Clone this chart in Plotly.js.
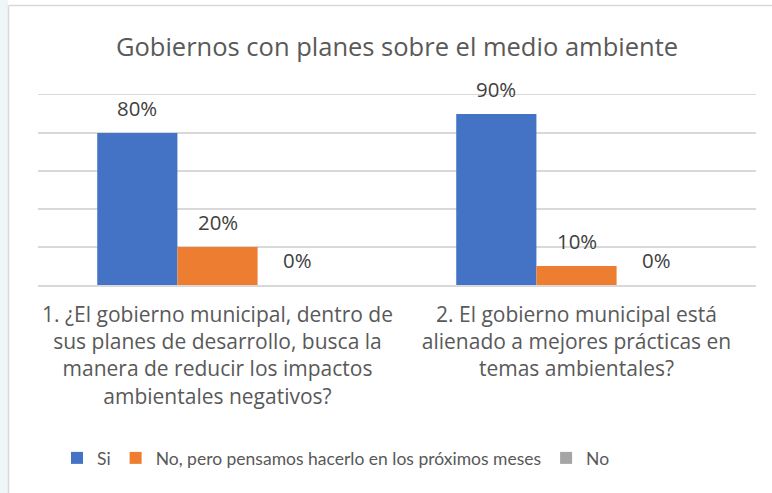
<!DOCTYPE html>
<html>
<head>
<meta charset="utf-8">
<script src="https://cdn.plot.ly/plotly-3.0.1.min.js"></script>
<style>html,body{margin:0;padding:0;background:#fff;}#chart{width:772px;height:493px;}</style>
</head>
<body>
<div id="chart"></div>
<script>
const categories = [
  "1. ¿El gobierno municipal, dentro de<br>sus planes de desarrollo, busca la<br>manera de reducir los impactos<br>ambientales negativos?",
  "2. El gobierno municipal está<br>alienado a mejores prácticas en<br>temas ambientales?"
];
const seriesNames = ["Si", "No, pero pensamos hacerlo en los próximos meses", "No"];
const siValues = [80, 90];
const noPeroValues = [20, 10];
const noValues = [0, 0];
const colors = ["#4472C4", "#ED7D31", "#A5A5A5"];

const W = 772, H = 493;
const M = {l: 38, r: 16, t: 95, b: 208};
const plotW = W - M.l - M.r, plotH = H - M.t - M.b;
const bargap = 0.33;
const FONT = "'Open Sans', Lato, sans-serif";

const allSeries = [siValues, noPeroValues, noValues];
const traces = allSeries.map((vals, i) => ({
  type: "bar",
  name: seriesNames[i],
  x: categories,
  y: vals,
  marker: {color: colors[i]},
  hoverinfo: "none"
}));

const catW = plotW / categories.length;
const barW = catW * (1 - bargap) / allSeries.length;
const annotations = [];
allSeries.forEach((vals, i) => {
  vals.forEach((v, j) => {
    annotations.push({
      x: categories[j], y: v, xref: "x", yref: "y",
      xshift: (i - (allSeries.length - 1) / 2) * barW,
      yshift: 25, yanchor: "middle", xanchor: "center",
      text: v + "%", showarrow: false,
      font: {family: FONT, size: 20.4, color: "#404040"}
    });
  });
});

// frame pieces in paper coords
const px = x => (x - M.l) / plotW;
const py = y => (H - M.b - y) / plotH;
const shapes = [
  {type: "rect", xref: "paper", yref: "paper", x0: px(0), x1: px(8), y0: py(H), y1: py(0), fillcolor: "#eef6f8", line: {width: 0}, layer: "below"},
  {type: "line", xref: "paper", yref: "paper", x0: px(8.5), x1: px(8.5), y0: py(H), y1: py(5.5), line: {color: "#d9d9d9", width: 1.5}},
  {type: "line", xref: "paper", yref: "paper", x0: px(8.5), x1: px(W), y0: py(5.5), y1: py(5.5), line: {color: "#d9d9d9", width: 1.5}}
];

const layout = {
  width: W, height: H,
  margin: M,
  paper_bgcolor: "#ffffff", plot_bgcolor: "#ffffff",
  font: {family: FONT, color: "#595959"},
  title: {text: "Gobiernos con planes sobre el medio ambiente", x: 0.5, xref: "paper", y: 1 - 47 / H, yanchor: "middle",
          font: {family: FONT, size: 25.5, color: "#595959"}},
  barmode: "group", bargap: bargap, bargroupgap: 0,
  xaxis: {showgrid: false, zeroline: false, showline: true, mirror: true, linecolor: "#d9d9d9", linewidth: 1.5,
          ticks: "", ticklabelstandoff: 10, tickfont: {family: FONT, size: 21, color: "#595959"}, fixedrange: true},
  yaxis: {range: [0, 100], dtick: 20, showgrid: true, gridcolor: "#d9d9d9", gridwidth: 1.5,
          showticklabels: false, zeroline: false, fixedrange: true},
  showlegend: true,
  legend: {orientation: "h", x: px(57), xanchor: "left", y: py(458), yanchor: "middle",
           font: {family: "Lato, sans-serif", size: 17.5, color: "#595959"}, traceorder: "normal"},
  annotations: annotations,
  shapes: shapes
};

Plotly.newPlot("chart", traces, layout, {displayModeBar: false, staticPlot: true});
</script>
</body>
</html>
